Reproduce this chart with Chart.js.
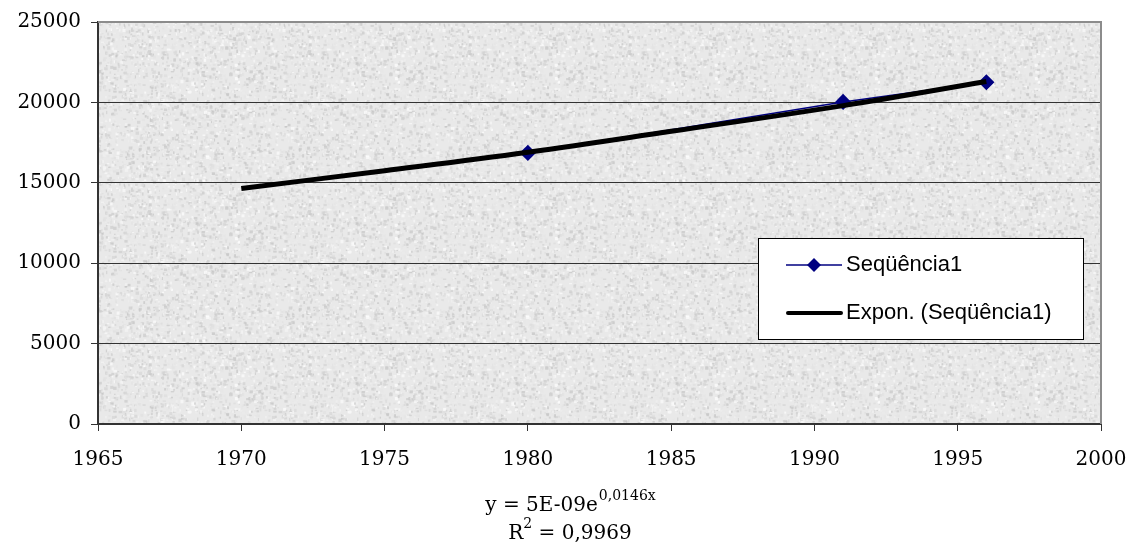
<!DOCTYPE html>
<html>
<head>
<meta charset="utf-8">
<script src="https://cdn.jsdelivr.net/npm/chart.js@4/dist/chart.umd.min.js"></script>
<style>
  html, body { margin: 0; padding: 0; background: #fff; }
  #wrap { width: 1135px; height: 544px; }
</style>
</head>
<body>
<div id="wrap"><canvas id="grafico"></canvas></div>
<script>
// dados
const anos = [1980, 1991, 1996];
const populacao = [16860, 20030, 21250];
const anosTendencia = [1970, 1975, 1980, 1985, 1991, 1996];
const valoresTendencia = [14650, 15750, 16900, 18200, 19800, 21300];
const nomeSerie = 'Seqüência1';
const nomeTendencia = 'Expon. (Seqüência1)';
const equacao = ['y = 5E-09e', '0,0146x'];
const rQuadrado = ['R', '2', ' = 0,9969'];

// textura cinza (granito) para o fundo da área de plotagem
function criaTextura() {
  const c = document.createElement('canvas');
  c.width = 160; c.height = 160;
  const g = c.getContext('2d');
  g.fillStyle = '#e9e9e9';
  g.fillRect(0, 0, 160, 160);
  let s = 12345;
  const rnd = () => { s = (s * 1103515245 + 12345) % 2147483648; return s / 2147483648; };
  for (let i = 0; i < 2600; i++) {
    const x = rnd() * 160, y = rnd() * 160;
    const v = Math.floor(195 + rnd() * 60);
    g.fillStyle = `rgba(${v},${v},${v},0.7)`;
    g.fillRect(x, y, 1 + rnd() * 2.5, 1 + rnd() * 2.5);
  }
  return g.createPattern(c, 'repeat');
}

const fundo = {
  id: 'fundo',
  beforeDraw(chart) {
    const { ctx, chartArea: a } = chart;
    ctx.save();
    ctx.fillStyle = criaTextura();
    ctx.fillRect(a.left, a.top, a.right - a.left, a.bottom - a.top);
    ctx.restore();
  },
  afterDraw(chart) {
    const { ctx, chartArea: a } = chart;
    ctx.save();
    // moldura superior e direita
    ctx.strokeStyle = '#8c8c8c';
    ctx.lineWidth = 2;
    ctx.beginPath();
    ctx.moveTo(a.left, a.top);
    ctx.lineTo(a.right, a.top);
    ctx.lineTo(a.right, a.bottom);
    ctx.stroke();

    // legenda
    const lx = 758, ly = 238, lw = 325, lh = 101;
    ctx.fillStyle = '#fff';
    ctx.fillRect(lx, ly, lw, lh);
    ctx.strokeStyle = '#000';
    ctx.lineWidth = 1;
    ctx.strokeRect(lx + 0.5, ly + 0.5, lw, lh);
    ctx.font = '22px "Liberation Sans", Arial, sans-serif';
    ctx.textBaseline = 'middle';
    ctx.fillStyle = '#000';
    // serie
    ctx.strokeStyle = '#000080';
    ctx.lineWidth = 1.5;
    ctx.beginPath();
    ctx.moveTo(786, 265); ctx.lineTo(842, 265);
    ctx.stroke();
    ctx.fillStyle = '#000080';
    ctx.beginPath();
    ctx.moveTo(814, 258); ctx.lineTo(821, 265); ctx.lineTo(814, 272); ctx.lineTo(807, 265);
    ctx.closePath(); ctx.fill();
    ctx.fillStyle = '#000';
    ctx.fillText(nomeSerie, 846, 265);
    // tendencia
    ctx.strokeStyle = '#000';
    ctx.lineWidth = 4;
    ctx.lineCap = 'round';
    ctx.beginPath();
    ctx.moveTo(788, 313); ctx.lineTo(841, 313);
    ctx.stroke();
    ctx.fillText(nomeTendencia, 846, 313);

    // equação da linha de tendência
    const cx = 570;
    ctx.fillStyle = '#000';
    ctx.textBaseline = 'alphabetic';
    const fGrande = '20px "DejaVu Serif", serif';
    const fPeq = '14px "DejaVu Serif", serif';
    ctx.font = fGrande;
    const w1 = ctx.measureText(equacao[0]).width;
    ctx.font = fPeq;
    const w2 = ctx.measureText(equacao[1]).width;
    let x0 = cx - (w1 + w2) / 2;
    ctx.font = fGrande;
    ctx.fillText(equacao[0], x0, 511);
    ctx.font = fPeq;
    ctx.fillText(equacao[1], x0 + w1 + 1, 500);

    ctx.font = fGrande;
    const r1 = ctx.measureText(rQuadrado[0]).width;
    const r3 = ctx.measureText(rQuadrado[2]).width;
    ctx.font = fPeq;
    const r2 = ctx.measureText(rQuadrado[1]).width;
    x0 = cx - (r1 + r2 + r3) / 2;
    ctx.font = fGrande;
    ctx.fillText(rQuadrado[0], x0, 539);
    ctx.font = fPeq;
    ctx.fillText(rQuadrado[1], x0 + r1, 528);
    ctx.font = fGrande;
    ctx.fillText(rQuadrado[2], x0 + r1 + r2, 539);
    ctx.restore();
  }
};

const fonteEixo = { family: '"DejaVu Serif", serif', size: 20 };

new Chart(document.getElementById('grafico'), {
  type: 'scatter',
  data: {
    datasets: [
      {
        label: nomeSerie,
        data: anos.map((a, i) => ({ x: a, y: populacao[i] })),
        showLine: true,
        borderColor: '#000080',
        backgroundColor: '#000080',
        borderWidth: 1.5,
        pointStyle: 'rectRot',
        pointRadius: 7,
        pointHoverRadius: 7,
        order: 1
      },
      {
        label: nomeTendencia,
        data: anosTendencia.map((a, i) => ({ x: a, y: valoresTendencia[i] })),
        showLine: true,
        borderColor: '#000',
        borderWidth: 5,
        pointRadius: 0,
        tension: 0.4,
        order: 0
      }
    ]
  },
  options: {
    responsive: true,
    maintainAspectRatio: false,
    animation: false,
    layout: { padding: { top: 22, right: 34, left: 0, bottom: 0 } },
    plugins: {
      legend: { display: false },
      tooltip: { enabled: false }
    },
    scales: {
      x: {
        type: 'linear',
        min: 1965,
        max: 2000,
        afterFit: (s) => { s.height = 120; s.paddingLeft = 0; s.paddingRight = 0; },
        ticks: { stepSize: 5, color: '#000', font: fonteEixo, padding: 17, maxRotation: 0,
          callback: (v) => String(v) },
        grid: { drawOnChartArea: false, drawTicks: true, tickLength: 7, color: '#333' },
        border: { color: '#333', width: 2 }
      },
      y: {
        min: 0,
        max: 25000,
        afterFit: (s) => { s.width = 98; s.paddingTop = 0; s.paddingBottom = 0; },
        ticks: { stepSize: 5000, color: '#000', font: fonteEixo, padding: 10,
          callback: (v) => String(v) },
        grid: { color: '#333', lineWidth: 1, tickLength: 7 },
        border: { color: '#333', width: 2 }
      }
    }
  },
  plugins: [fundo]
});
</script>
</body>
</html>
